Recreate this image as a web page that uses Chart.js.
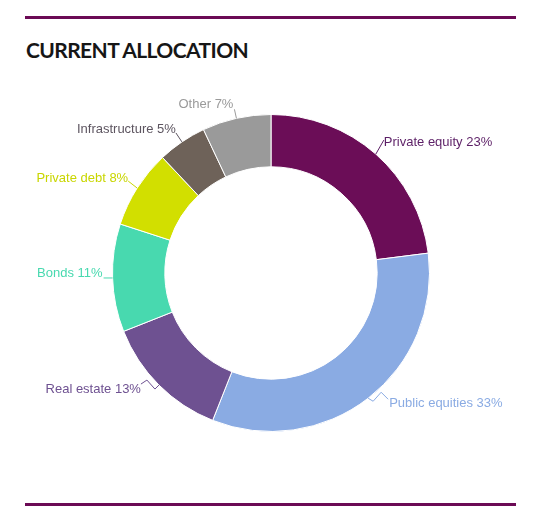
<!DOCTYPE html>
<html>
<head>
<meta charset="utf-8">
<script src="https://cdn.jsdelivr.net/npm/chart.js@4"></script>
<style>
    html, body { margin: 0; padding: 0; background: #fff; }
    .page { position: relative; width: 540px; height: 522px; overflow: hidden; }
    .rule { position: absolute; left: 25px; width: 491px; height: 3px; background: #6b0a55; }
    .rule.top { top: 16px; }
    .rule.bottom { top: 503px; }
    .title {
        position: absolute; left: 26px; top: 37px; margin: 0;
        font: bold 21px "Lato", sans-serif; color: #161616; line-height: 26px;
        letter-spacing: -0.6px;
    }
    canvas { position: absolute; left: 0; top: 0; }
</style>
</head>
<body>
<div class="page">
    <div class="rule top"></div>
    <h2 class="title">CURRENT ALLOCATION</h2>
    <canvas id="allocChart" width="540" height="522"></canvas>
    <div class="rule bottom"></div>
</div>
<script>
const categories = ["Private equity", "Public equities", "Real estate", "Bonds", "Private debt", "Infrastructure", "Other"];
const allocation = [23, 33, 13, 11, 8, 5, 7];
const sliceColors = ["#6b0d57", "#8aabe3", "#6e5191", "#48d9af", "#d2df00", "#6e6259", "#9a9a9a"];
const labelColors = ["#5c1f66", "#8aabe3", "#6e5191", "#48d9af", "#c9d600", "#5d5560", "#9a9a9a"];

// leader line shapes, relative to the point on the outer edge at the slice's middle angle
const LEADERS = [
    [[0, 0], [8, -14]],
    [[0, 0], [5, 3], [13, -6], [20, 1]],
    [[0, 0], [-4, 4], [-12, -5], [-18, -1]],
    [[0, 0], [-9, 0]],
    [[0, 0], [-9, -7]],
    [[0, 0], [-6, -9]],
    [[0, 0], [-2, -9]]
];
// text spot: dx, baseline dy, alignment
const TEXT_SPOTS = [
    [8, -8, "left"],
    [21, 8.5, "left"],
    [-18, 7.6, "right"],
    [-10, -1, "right"],
    [-9, -6, "right"],
    [-6, -8.5, "right"],
    [-3, -10, "right"]
];

const outsideLabels = {
    id: "outsideLabels",
    afterDatasetsDraw(chart) {
        const ctx = chart.ctx;
        const meta = chart.getDatasetMeta(0);
        ctx.save();
        ctx.font = '13px "Liberation Sans", Arial, sans-serif';
        ctx.lineWidth = 1;
        meta.data.forEach((arc, i) => {
            const { x, y, startAngle, endAngle, outerRadius } = arc.getProps(["x", "y", "startAngle", "endAngle", "outerRadius"], true);
            const mid = (startAngle + endAngle) / 2;
            const ax = x + Math.cos(mid) * outerRadius;
            const ay = y + Math.sin(mid) * outerRadius;

            ctx.strokeStyle = labelColors[i];
            ctx.beginPath();
            LEADERS[i].forEach(([dx, dy], k) => {
                if (k === 0) ctx.moveTo(ax + dx, ay + dy);
                else ctx.lineTo(ax + dx, ay + dy);
            });
            ctx.stroke();

            const [tx, ty, align] = TEXT_SPOTS[i];
            ctx.fillStyle = labelColors[i];
            ctx.textAlign = align;
            ctx.textBaseline = "alphabetic";
            ctx.fillText(`${categories[i]} ${allocation[i]}%`, ax + tx, ay + ty);
        });
        ctx.restore();
    }
};

new Chart(document.getElementById("allocChart"), {
    type: "doughnut",
    data: {
        labels: categories,
        datasets: [{
            data: allocation,
            backgroundColor: sliceColors,
            borderColor: "#ffffff",
            borderWidth: 1
        }]
    },
    options: {
        responsive: false,
        animation: false,
        cutout: "67%",
        layout: { padding: { left: 112, right: 110, top: 114, bottom: 90 } },
        plugins: {
            legend: { display: false },
            tooltip: { enabled: false }
        }
    },
    plugins: [outsideLabels]
});
</script>
</body>
</html>
